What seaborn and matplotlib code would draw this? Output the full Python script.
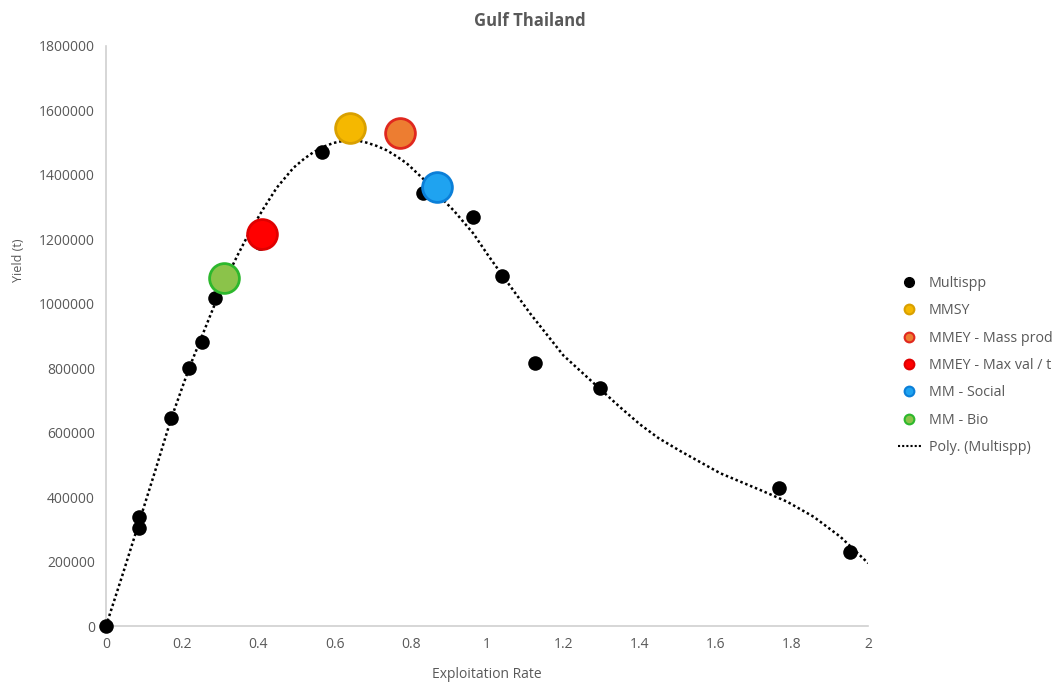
import numpy as np
import pandas as pd
import matplotlib
matplotlib.use("Agg")
import matplotlib.pyplot as plt
import seaborn as sns
from matplotlib.lines import Line2D
from matplotlib.ticker import FuncFormatter

# ---- data ----
multispp_x = [0.0, 0.087, 0.087, 0.170, 0.218, 0.252, 0.286, 0.404, 0.567,
              0.832, 0.963, 1.039, 1.126, 1.297, 1.766, 1.953]
multispp_y = [0, 338000, 304000, 646000, 801000, 881000, 1018000, 1190000, 1471000,
              1344000, 1269000, 1086000, 816000, 739000, 428000, 230000]

special_names = ["MMSY", "MMEY - Mass prod", "MMEY - Max val / t", "MM - Social", "MM - Bio"]
special_x = [0.640, 0.772, 0.409, 0.869, 0.310]
special_y = [1546000, 1530000, 1217000, 1362000, 1080000]
special_fill = ["#F5B800", "#ED7D31", "#FF0000", "#1FA3F0", "#8BC34A"]
special_edge = ["#D9A000", "#E0281E", "#E00000", "#0B7FD8", "#2DB82D"]

# polynomial trendline "Poly. (Multispp)"
trend_x = [0.0, 0.045, 0.089, 0.130, 0.170, 0.218, 0.252, 0.286, 0.310, 0.345, 0.378,
           0.413, 0.448, 0.492, 0.520, 0.544, 0.570, 0.597, 0.620, 0.640, 0.662, 0.684,
           0.710, 0.737, 0.762, 0.789, 0.833, 0.868, 0.912, 0.964, 1.000, 1.039, 1.113,
           1.200, 1.297, 1.350, 1.402, 1.450, 1.507, 1.612, 1.717, 1.787, 1.857, 1.927, 2.0]
trend_y = [0, 165000, 330000, 485000, 640000, 800000, 900000, 1000000, 1065000, 1150000,
           1225000, 1295000, 1360000, 1422000, 1450000, 1470000, 1487000, 1499000, 1505000,
           1508000, 1506000, 1500000, 1490000, 1476000, 1458000, 1436000, 1387000, 1342000,
           1290000, 1218000, 1155000, 1090000, 970000, 840000, 735000, 678000, 625000,
           583000, 543000, 474000, 422000, 386000, 339000, 277000, 195000]

x_ticks = [0, 0.2, 0.4, 0.6, 0.8, 1, 1.2, 1.4, 1.6, 1.8, 2]
y_ticks = [0, 200000, 400000, 600000, 800000, 1000000, 1200000, 1400000, 1600000, 1800000]

title = "Gulf Thailand"
x_label = "Exploitation Rate"
y_label = "Yield (t)"
trend_label = "Poly. (Multispp)"

# ---- figure ----
sns.set_theme(style="white")
plt.rcParams["font.family"] = ["Open Sans", "DejaVu Sans"]
txt = "#595959"

fig = plt.figure(figsize=(10.6, 6.82), dpi=100)
ax = fig.add_axes([0.100, 0.0821, 0.719, 0.8505])

trend = pd.DataFrame({"x": trend_x, "y": trend_y})
sns.lineplot(data=trend, x="x", y="y", ax=ax, color="black", lw=1.8,
             linestyle=(0, (1, 1.1)), zorder=2, legend=False, sort=False)

df = pd.DataFrame({"x": multispp_x, "y": multispp_y})
sns.scatterplot(data=df, x="x", y="y", ax=ax, color="black", s=110,
                edgecolor="black", linewidth=0, zorder=3, legend=False)

for nm, xx, yy, fc, ec in zip(special_names, special_x, special_y, special_fill, special_edge):
    sns.scatterplot(x=[xx], y=[yy], ax=ax, color=fc, s=460, edgecolor=ec,
                    linewidth=2, zorder=4, legend=False)

ax.set_xlim(0, 2)
ax.set_ylim(0, 1800000)
ax.set_xticks(x_ticks)
ax.set_yticks(y_ticks)
ax.xaxis.set_major_formatter(FuncFormatter(lambda v, p: f"{v:g}"))
ax.yaxis.set_major_formatter(FuncFormatter(lambda v, p: f"{int(v)}"))
ax.tick_params(axis="both", length=0, labelsize=10, colors=txt, pad=8)
for s in ["top", "right"]:
    ax.spines[s].set_visible(False)
for s in ["left", "bottom"]:
    ax.spines[s].set_color("#D0D0D0")
    ax.spines[s].set_linewidth(1.2)
ax.grid(False)
for c in ax.collections:
    c.set_clip_on(False)

ax.set_xlabel(x_label, fontsize=10, color=txt, labelpad=11)
ax.set_ylabel(y_label, fontsize=9, color=txt)
ax.yaxis.set_label_coords(-0.106, 0.631)
fig.suptitle(title, fontsize=12, fontweight="bold", color=txt, x=0.5, y=0.982)

handles = [Line2D([], [], marker="o", ls="", markersize=7, markerfacecolor="black",
                  markeredgecolor="black")]
for fc, ec in zip(special_fill, special_edge):
    handles.append(Line2D([], [], marker="o", ls="", markersize=7, markerfacecolor=fc,
                          markeredgecolor=ec, markeredgewidth=1.5))
handles.append(Line2D([], [], color="black", lw=1.5, linestyle=(0, (1, 1))))
labels = ["Multispp"] + special_names + [trend_label]
leg = fig.legend(handles, labels, loc="upper left", bbox_to_anchor=(0.835, 0.614),
                 frameon=False, fontsize=10.3, labelspacing=0.86, handlelength=1.6,
                 handletextpad=0.55)
for t in leg.get_texts():
    t.set_color(txt)

fig.savefig("out.png", dpi=100)
